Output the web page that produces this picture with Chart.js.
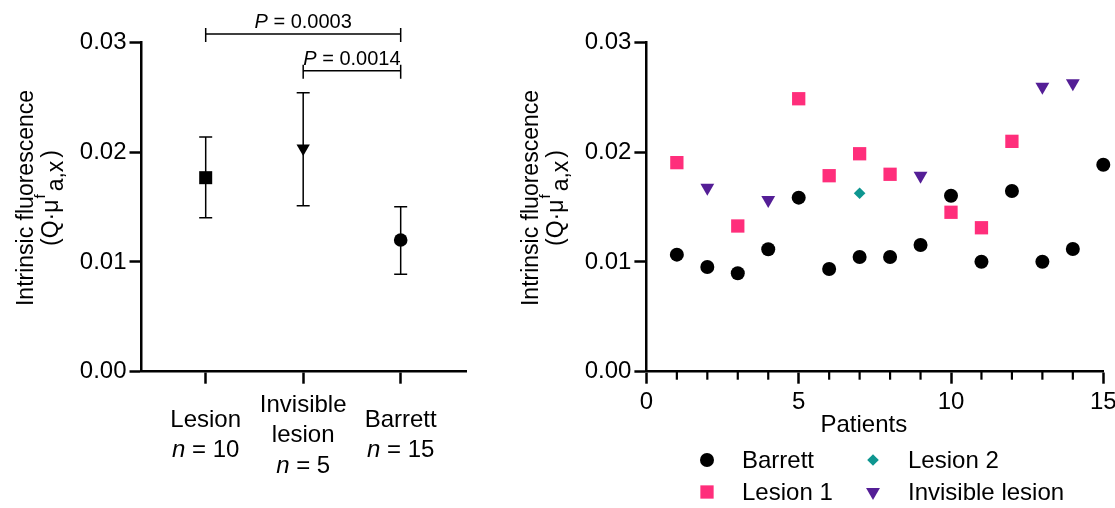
<!DOCTYPE html>
<html>
<head>
<meta charset="utf-8">
<script src="https://cdn.jsdelivr.net/npm/chart.js@4.4.1/dist/chart.umd.min.js"></script>
<style>
  html, body { margin: 0; padding: 0; background: #fff; }
  #wrap { position: relative; width: 1115px; height: 508px; }
  #leftBox { position: absolute; left: 0; top: 0; width: 520px; height: 508px; }
  #rightBox { position: absolute; left: 520px; top: 0; width: 595px; height: 508px; }
</style>
</head>
<body>
<div id="wrap">
  <div id="leftBox"><canvas id="groupChart"></canvas></div>
  <div id="rightBox"><canvas id="patientChart"></canvas></div>
</div>
<script>
// left panel: group mean +/- error
const groupPos = [1, 2, 3];
const groupLabels = [['Lesion'], ['Invisible', 'lesion'], ['Barrett']];
const groupN = [10, 5, 15];
const groupMean = [0.01767, 0.02035, 0.01199];
const groupHigh = [0.02138, 0.02541, 0.01503];
const groupLow = [0.01403, 0.01512, 0.00887];

// significance brackets
const pFrom = [1, 2];
const pTo = [3, 3];
const pValues = ['0.0003', '0.0014'];
const pLevels = [0.03076, 0.02741];

// right panel: per patient
const barrettX = [1, 2, 3, 4, 5, 6, 7, 8, 9, 10, 11, 12, 13, 14, 15];
const barrettY = [0.01066, 0.00954, 0.00896, 0.01115, 0.01585, 0.00935, 0.01045, 0.01045, 0.01154, 0.01603, 0.01002, 0.01646, 0.01002, 0.01117, 0.01885];
const lesion1X = [1, 3, 5, 6, 7, 8, 10, 11, 12];
const lesion1Y = [0.01904, 0.01327, 0.02486, 0.01785, 0.01985, 0.01798, 0.01452, 0.01311, 0.02098];
const lesion2X = [7];
const lesion2Y = [0.01625];
const invisibleX = [2, 4, 9, 13, 14];
const invisibleY = [0.01676, 0.01564, 0.01785, 0.02595, 0.02626];

const yTicks = [0, 0.01, 0.02, 0.03];
const yTitle = 'Intrinsic fluorescence';
const xTitle = 'Patients';

const FONT = '"Liberation Sans", Arial, Helvetica, sans-serif';
Chart.defaults.font.family = FONT;
Chart.defaults.font.size = 24;
Chart.defaults.color = '#000';

const toPts = (xs, ys) => xs.map((x, i) => ({ x, y: ys[i] }));

// y title, second line has a raised f and lowered a,x
function drawYTitle(chart) {
  const { ctx, chartArea } = chart;
  const cy = (chartArea.top + chartArea.bottom) / 2 - 9;
  ctx.save();
  ctx.fillStyle = '#000';
  ctx.font = '23px ' + FONT;
  ctx.translate(chartArea.left - 108.5, cy);
  ctx.rotate(-Math.PI / 2);
  ctx.textAlign = 'center';
  ctx.textBaseline = 'alphabetic';
  ctx.fillText(yTitle, 0, 0);
  // [text, font size, baseline shift, gap after]
  const parts = [['(Q·μ', 23, 0, 1], ['f', 15, -13, 3], ['a,x', 23, 5, 3], [')', 23, 0, 0]];
  const widths = parts.map(p => { ctx.font = p[1] + 'px ' + FONT; return ctx.measureText(p[0]).width; });
  const total = widths.reduce((s, w, i) => s + w + parts[i][3], 0);
  let x = -total / 2;
  ctx.textAlign = 'left';
  parts.forEach((p, i) => {
    ctx.font = p[1] + 'px ' + FONT;
    ctx.fillText(p[0], x, 25 + p[2]);
    x += widths[i] + p[3];
  });
  ctx.restore();
}

function drawItalicLead(ctx, lead, rest, cx, y, size) {
  ctx.font = 'italic ' + size + 'px ' + FONT;
  const w1 = ctx.measureText(lead).width;
  ctx.font = size + 'px ' + FONT;
  const w2 = ctx.measureText(rest).width;
  const x = cx - (w1 + w2) / 2;
  ctx.textAlign = 'left';
  ctx.font = 'italic ' + size + 'px ' + FONT;
  ctx.fillText(lead, x, y);
  ctx.font = size + 'px ' + FONT;
  ctx.fillText(rest, x + w1, y);
}

const groupDecor = {
  id: 'groupDecor',
  beforeDatasetsDraw(chart) {
    const { ctx, scales: { x, y } } = chart;
    ctx.save();
    ctx.strokeStyle = '#000';
    ctx.lineWidth = 1.5;
    groupPos.forEach((g, i) => {
      const px = x.getPixelForValue(g);
      const top = y.getPixelForValue(groupHigh[i]);
      const bot = y.getPixelForValue(groupLow[i]);
      ctx.beginPath();
      ctx.moveTo(px, top); ctx.lineTo(px, bot);
      ctx.moveTo(px - 6.5, top); ctx.lineTo(px + 6.5, top);
      ctx.moveTo(px - 6.5, bot); ctx.lineTo(px + 6.5, bot);
      ctx.stroke();
    });
    ctx.restore();
  },
  afterDraw(chart) {
    const { ctx, chartArea, scales: { x, y } } = chart;
    ctx.save();
    ctx.fillStyle = '#000';
    ctx.strokeStyle = '#000';
    ctx.lineWidth = 1.5;
    // brackets
    pValues.forEach((p, i) => {
      const x1 = x.getPixelForValue(pFrom[i]);
      const x2 = x.getPixelForValue(pTo[i]);
      const py = y.getPixelForValue(pLevels[i]);
      ctx.beginPath();
      ctx.moveTo(x1, py); ctx.lineTo(x2, py);
      ctx.moveTo(x1, py - 6); ctx.lineTo(x1, py + 8);
      ctx.moveTo(x2, py - 6); ctx.lineTo(x2, py + 8);
      ctx.stroke();
      drawItalicLead(ctx, 'P', ' = ' + p, (x1 + x2) / 2, py - 5.5, 20);
    });
    // category labels
    ctx.textBaseline = 'alphabetic';
    groupPos.forEach((g, i) => {
      const px = x.getPixelForValue(g);
      const lines = groupLabels[i];
      const k = lines.length + 1;
      const mid = chartArea.bottom + 70.3;
      lines.forEach((t, j) => {
        ctx.font = '24px ' + FONT;
        ctx.textAlign = 'center';
        ctx.fillText(t, px, mid + (j - (k - 1) / 2) * 30.5);
      });
      drawItalicLead(ctx, 'n', ' = ' + groupN[i], px, mid + ((k - 1) / 2) * 30.5, 24);
    });
    drawYTitle(chart);
    ctx.restore();
  }
};

const yAxis = (w) => ({
  min: 0, max: 0.03,
  afterBuildTicks: s => { s.ticks = yTicks.map(v => ({ value: v })); },
  afterFit: s => { s.width = w; },
  ticks: { callback: v => v.toFixed(2), padding: 3, font: { size: 24 } },
  grid: { drawOnChartArea: false, tickLength: 12, tickWidth: 2.5, tickColor: '#000' },
  border: { color: '#000', width: 2.5 }
});

new Chart(document.getElementById('groupChart'), {
  type: 'scatter',
  data: {
    datasets: [{
      data: toPts(groupPos, groupMean),
      pointStyle: ['rect', 'triangle', 'circle'],
      pointRotation: [0, 180, 0],
      pointRadius: [9.2, 7.7, 6.8],
      pointBackgroundColor: '#000',
      pointBorderWidth: 0,
      clip: false
    }]
  },
  options: {
    responsive: true,
    maintainAspectRatio: false,
    animation: false,
    layout: { padding: { top: 42.3, right: 54, bottom: 0, left: 0 } },
    plugins: { legend: { display: false }, tooltip: { enabled: false } },
    scales: {
      x: {
        type: 'linear', min: 0.3415, max: 3.67,
        afterBuildTicks: s => { s.ticks = groupPos.map(v => ({ value: v })); },
        afterFit: s => { s.height = 136.3; s.paddingLeft = 0; s.paddingRight = 0; },
        ticks: { display: false },
        grid: { drawOnChartArea: false, tickLength: 12, tickWidth: 2.5, tickColor: '#000' },
        border: { color: '#000', width: 2.5 }
      },
      y: yAxis(141.5)
    }
  },
  plugins: [groupDecor]
});

const patientDecor = {
  id: 'patientDecor',
  afterDraw(chart) {
    const { ctx, chartArea, scales: { x } } = chart;
    ctx.save();
    // minor ticks
    ctx.strokeStyle = '#000';
    ctx.lineWidth = 2.2;
    for (let v = x.min; v <= x.max; v++) {
      if (v % 5 === 0) continue;
      const px = x.getPixelForValue(v);
      ctx.beginPath();
      ctx.moveTo(px, chartArea.bottom);
      ctx.lineTo(px, chartArea.bottom + 8);
      ctx.stroke();
    }
    // x title
    ctx.fillStyle = '#000';
    ctx.font = '24px ' + FONT;
    ctx.textAlign = 'center';
    ctx.textBaseline = 'alphabetic';
    ctx.fillText(xTitle, (chartArea.left + chartArea.right) / 2 - 11, chartArea.bottom + 60);
    // legend, two columns
    chart.data.datasets.forEach((ds, i) => {
      const col = Math.floor(i / 2), row = i % 2;
      const mx = chartArea.left + 60.6 + col * 166;
      const my = chartArea.bottom + 88.3 + row * 32;
      ctx.fillStyle = ds.pointBackgroundColor;
      Chart.helpers.drawPoint(ctx, {
        pointStyle: ds.pointStyle, rotation: ds.pointRotation || 0,
        radius: ds.pointRadius, borderWidth: 0
      }, mx, my);
      ctx.fillStyle = '#000';
      ctx.font = '24px ' + FONT;
      ctx.textAlign = 'left';
      ctx.textBaseline = 'middle';
      ctx.fillText(ds.label, mx + 35, my + 1);
    });
    drawYTitle(chart);
    ctx.restore();
  }
};

new Chart(document.getElementById('patientChart'), {
  type: 'scatter',
  data: {
    datasets: [{
      label: 'Barrett',
      data: toPts(barrettX, barrettY),
      pointStyle: 'circle', pointRadius: 7, pointBackgroundColor: '#000',
      pointBorderWidth: 0, clip: false
    }, {
      label: 'Lesion 1',
      data: toPts(lesion1X, lesion1Y),
      pointStyle: 'rect', pointRadius: 9.4, pointBackgroundColor: '#ff2e7b',
      pointBorderWidth: 0, clip: false
    }, {
      label: 'Lesion 2',
      data: toPts(lesion2X, lesion2Y),
      pointStyle: 'rectRot', pointRadius: 5.8, pointBackgroundColor: '#0e9690',
      pointBorderWidth: 0, clip: false
    }, {
      label: 'Invisible lesion',
      data: toPts(invisibleX, invisibleY),
      pointStyle: 'triangle', pointRotation: 180, pointRadius: 8, pointBackgroundColor: '#541e96',
      pointBorderWidth: 0, clip: false
    }]
  },
  options: {
    responsive: true,
    maintainAspectRatio: false,
    animation: false,
    layout: { padding: { top: 42.3, right: 11.7, bottom: 0, left: 0 } },
    plugins: { legend: { display: false }, tooltip: { enabled: false } },
    scales: {
      x: {
        type: 'linear', min: 0, max: 15,
        afterBuildTicks: s => { s.ticks = [0, 5, 10, 15].map(v => ({ value: v })); },
        afterFit: s => { s.height = 136.3; s.paddingLeft = 0; s.paddingRight = 0; },
        ticks: { padding: 4, maxRotation: 0, autoSkip: false, font: { size: 24 } },
        grid: { drawOnChartArea: false, tickLength: 12, tickWidth: 2.5, tickColor: '#000' },
        border: { color: '#000', width: 2.5 }
      },
      y: yAxis(126.4)
    }
  },
  plugins: [patientDecor]
});
</script>
</body>
</html>
